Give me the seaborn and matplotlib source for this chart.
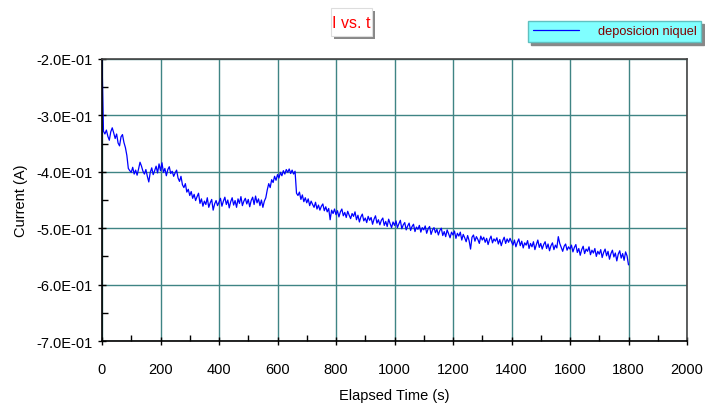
import numpy as np
import pandas as pd
import matplotlib
matplotlib.use("Agg")
import matplotlib.pyplot as plt
from matplotlib.patches import Rectangle
from matplotlib.ticker import MultipleLocator, FuncFormatter
import seaborn as sns

# Current readings (A), one every 5 s
current = [
    -0.200, -0.328, -0.333, -0.326, -0.337, -0.344, -0.329, -0.322, -0.331, -0.341,
    -0.333, -0.349, -0.354, -0.338, -0.334, -0.348, -0.357, -0.371, -0.394, -0.398,
    -0.401, -0.392, -0.404, -0.397, -0.406, -0.395, -0.383, -0.390, -0.399, -0.404,
    -0.396, -0.408, -0.418, -0.401, -0.393, -0.405, -0.398, -0.390, -0.402, -0.386,
    -0.398, -0.384, -0.401, -0.394, -0.407, -0.396, -0.391, -0.403, -0.399, -0.408,
    -0.402, -0.397, -0.411, -0.417, -0.408, -0.423, -0.428, -0.421, -0.436, -0.431,
    -0.442, -0.435, -0.447, -0.440, -0.451, -0.444, -0.438, -0.456, -0.448, -0.461,
    -0.452, -0.458, -0.446, -0.463, -0.455, -0.449, -0.468, -0.457, -0.451, -0.460,
    -0.454, -0.447, -0.461, -0.452, -0.445, -0.458, -0.450, -0.464, -0.453, -0.446,
    -0.459, -0.451, -0.463, -0.448, -0.456, -0.444, -0.460, -0.452, -0.447, -0.457,
    -0.449, -0.462, -0.451, -0.445, -0.458, -0.443, -0.455, -0.448, -0.460, -0.450,
    -0.463, -0.452, -0.446, -0.432, -0.421, -0.428, -0.414, -0.419, -0.408, -0.415,
    -0.405, -0.411, -0.401, -0.407, -0.398, -0.404, -0.396, -0.401, -0.395, -0.403,
    -0.397, -0.404, -0.399, -0.438, -0.442, -0.436, -0.449, -0.441, -0.453, -0.446,
    -0.455, -0.448, -0.460, -0.452, -0.458, -0.463, -0.454, -0.466, -0.459, -0.468,
    -0.461, -0.457, -0.469, -0.462, -0.471, -0.465, -0.485, -0.468, -0.474, -0.466,
    -0.476, -0.469, -0.480, -0.471, -0.466, -0.478, -0.472, -0.481, -0.470, -0.477,
    -0.483, -0.474, -0.479, -0.471, -0.485, -0.477, -0.489, -0.480, -0.475, -0.487,
    -0.482, -0.490, -0.479, -0.486, -0.481, -0.493, -0.484, -0.478, -0.491, -0.485,
    -0.494, -0.486, -0.482, -0.495, -0.488, -0.497, -0.484, -0.492, -0.499, -0.489,
    -0.495, -0.487, -0.499, -0.492, -0.486, -0.501, -0.494, -0.490, -0.503, -0.496,
    -0.491, -0.504, -0.497, -0.493, -0.506, -0.498, -0.502, -0.495, -0.507, -0.499,
    -0.503, -0.496, -0.509, -0.501, -0.497, -0.511, -0.503, -0.499, -0.508, -0.502,
    -0.512, -0.504, -0.500, -0.513, -0.506, -0.515, -0.503, -0.510, -0.517, -0.507,
    -0.512, -0.505, -0.518, -0.509, -0.514, -0.507, -0.521, -0.511, -0.517, -0.524,
    -0.513, -0.522, -0.537, -0.516, -0.512, -0.523, -0.515, -0.520, -0.527, -0.514,
    -0.521, -0.516, -0.525, -0.518, -0.529, -0.520, -0.514, -0.526, -0.519, -0.523,
    -0.517, -0.528, -0.520, -0.531, -0.522, -0.516, -0.527, -0.519, -0.525, -0.518,
    -0.524, -0.530, -0.521, -0.533, -0.525, -0.519, -0.531, -0.523, -0.535, -0.526,
    -0.530, -0.522, -0.536, -0.527, -0.533, -0.524, -0.538, -0.529, -0.521, -0.534,
    -0.527, -0.537, -0.529, -0.524, -0.536, -0.528, -0.540, -0.531, -0.526, -0.538,
    -0.530, -0.535, -0.515, -0.527, -0.534, -0.541, -0.532, -0.528, -0.539, -0.533,
    -0.537, -0.530, -0.542, -0.534, -0.529, -0.543, -0.536, -0.548, -0.538, -0.532,
    -0.545, -0.537, -0.541, -0.533, -0.547, -0.539, -0.544, -0.536, -0.550, -0.541,
    -0.546, -0.538, -0.552, -0.543, -0.537, -0.549, -0.541, -0.555, -0.545, -0.539,
    -0.551, -0.544, -0.558, -0.546, -0.540, -0.553, -0.545, -0.557, -0.542, -0.549,
    -0.565,
]
time_s = np.arange(len(current)) * 5

x_ticks = list(range(0, 2001, 200))
y_ticks = [-0.7, -0.6, -0.5, -0.4, -0.3, -0.2]

sns.set_theme(style="white")
plt.rcParams['font.family'] = ['Liberation Sans', 'DejaVu Sans']

df = pd.DataFrame({"t": time_s, "I": current})

fig = plt.figure(figsize=(7.05, 4.06), dpi=100)
ax = fig.add_axes([102 / 705, 1 - 342 / 406, 585 / 705, 282 / 406])

sns.lineplot(data=df, x="t", y="I", ax=ax, color="#0000ff", linewidth=0.9,
             label="deposicion niquel")

ax.set_xlim(0, 2000)
ax.set_ylim(-0.7, -0.2)
ax.set_xticks(x_ticks)
ax.set_yticks(y_ticks)
ax.xaxis.set_minor_locator(MultipleLocator(100))
ax.yaxis.set_minor_locator(MultipleLocator(0.05))
ax.yaxis.set_major_formatter(FuncFormatter(lambda v, p: f"{v:.1E}"))
ax.grid(True, which="major", color="#3f8484", linewidth=1)

for side in ["left", "bottom"]:
    ax.spines[side].set_color("black")
    ax.spines[side].set_linewidth(1.2)
for side in ["top", "right"]:
    ax.spines[side].set_color("#444444")
    ax.spines[side].set_linewidth(1.2)

ax.tick_params(axis="both", which="major", direction="inout", length=6, width=1,
               color="black", labelsize=10.5, labelcolor="black",
               left=True, bottom=True)
ax.tick_params(axis="x", which="major", pad=12)
ax.tick_params(axis="y", which="major", pad=4)
ax.tick_params(axis="both", which="minor", direction="in", length=4, width=1,
               color="black", left=True, bottom=True)

ax.set_xlabel("Elapsed Time (s)", fontsize=10.5, color="black", labelpad=9)
ax.set_ylabel("Current (A)", fontsize=10.5, color="black", labelpad=6)

# title box with drop shadow
fig.patches.append(Rectangle((334 / 705, 1 - 40 / 406), 41 / 705, 28 / 406,
                             transform=fig.transFigure, facecolor="#888888",
                             edgecolor="none", zorder=1))
fig.patches.append(Rectangle((331 / 705, 1 - 37 / 406), 41 / 705, 28 / 406,
                             transform=fig.transFigure, facecolor="white",
                             edgecolor="#dddddd", linewidth=0.8, zorder=2))
fig.text(351.5 / 705, 1 - 23 / 406, "I vs. t", color="#ff0000", fontsize=11.5,
         ha="center", va="center", zorder=3)

leg = ax.legend(loc="upper right", bbox_to_anchor=(701 / 705, 1 - 22 / 406),
                bbox_transform=fig.transFigure, frameon=True, fancybox=False,
                shadow={"color": "#888888", "alpha": 1}, handlelength=3.6,
                handletextpad=1.5, borderpad=0.35, borderaxespad=0, fontsize=9.2)
leg.get_frame().set_facecolor("#80ffff")
leg.get_frame().set_edgecolor("#60c0c0")
leg.get_frame().set_alpha(1)
for txt in leg.get_texts():
    txt.set_color("#800000")

fig.savefig("out.png", dpi=100)
